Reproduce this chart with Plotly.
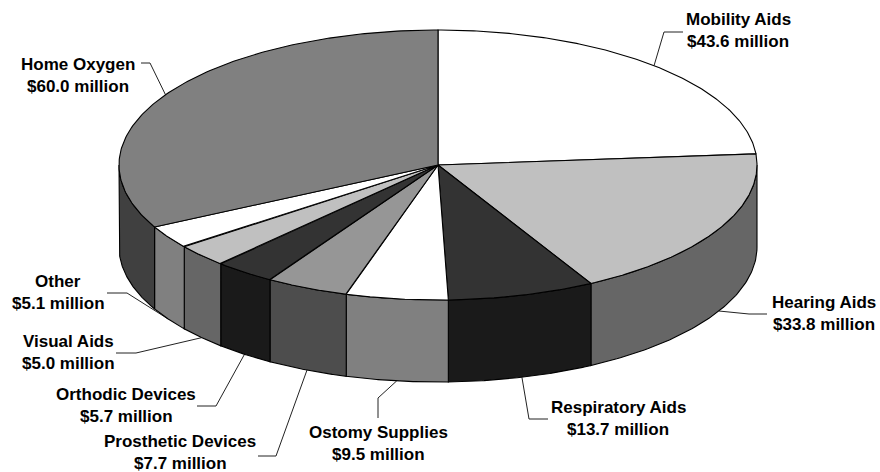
import numpy as np
import plotly.graph_objects as go

# Data
categories = ["Mobility Aids", "Hearing Aids", "Respiratory Aids", "Ostomy Supplies",
              "Prosthetic Devices", "Orthodic Devices", "Visual Aids", "Other", "Home Oxygen"]
values = [43.6, 33.8, 13.7, 9.5, 7.7, 5.7, 5.0, 5.1, 60.0]

# Styles
top_colors = ["#ffffff", "#c0c0c0", "#333333", "#ffffff", "#969696", "#333333", "#c0c0c0", "#ffffff", "#808080"]
side_colors = ["#666666", "#666666", "#1a1a1a", "#808080", "#4d4d4d", "#1a1a1a", "#666666", "#808080", "#404040"]

# Pie geometry (pixels)
cx, cy, a, b, depth = 438.0, 165.0, 319.0, 135.0, 82.0

# Label layout: elbow points of the leader and text centre
leader_elbows = [[(664, 32), (683, 32)], [(749, 314), (767, 314)], [(529, 419), (548, 419)],
                 [(378, 398), (378, 418)], [(276, 456), (258, 456)], [(216, 406), (197, 406)],
                 [(136, 353), (116, 353)], [(127, 293), (107, 293)], [(150, 63), (141, 63)]]
label_x = [738, 824, 618, 378, 180, 126, 68, 58, 78]
label_y = [19, 302, 407, 432, 441, 394, 341, 281, 64]
line_gap = 22
FONT = dict(family="Liberation Sans", size=17, color="#000000")


def ex(t):
    return cx + a * np.sin(np.radians(t))


def ey(t, dz=0.0):
    return cy - b * np.cos(np.radians(t)) + dz


total = sum(values)
edges = np.concatenate([[0.0], np.cumsum(values) / total * 360.0])

fig = go.Figure()
LINE = dict(color="black", width=1.1)

# leaders
for i, name in enumerate(categories):
    mid = (edges[i] + edges[i + 1]) / 2
    front = 90 < mid < 270
    xs = [float(ex(mid))] + [p[0] for p in leader_elbows[i]]
    ys = [float(ey(mid, depth if front else 0))] + [p[1] for p in leader_elbows[i]]
    fig.add_trace(go.Scatter(x=xs, y=ys, mode="lines", line=dict(color="#222222", width=1),
                             hoverinfo="skip", showlegend=False))

# side walls
for i, name in enumerate(categories):
    t0, t1 = max(edges[i], 90.0), min(edges[i + 1], 270.0)
    if t1 <= t0:
        continue
    t = np.linspace(t0, t1, 80)
    xs = np.concatenate([ex(t), ex(t[::-1]), ex(t[:1])])
    ys = np.concatenate([ey(t), ey(t[::-1], depth), ey(t[:1])])
    fig.add_trace(go.Scatter(x=xs, y=ys, mode="lines", fill="toself", fillcolor=side_colors[i],
                             line=LINE, name=name, showlegend=False))

# top slices
for i, name in enumerate(categories):
    t = np.linspace(edges[i], edges[i + 1], 160)
    xs = np.concatenate([[cx], ex(t), [cx]])
    ys = np.concatenate([[cy], ey(t), [cy]])
    fig.add_trace(go.Scatter(x=xs, y=ys, mode="lines", fill="toself", fillcolor=top_colors[i],
                             line=LINE, name=name, text=f"${values[i]:.1f} million",
                             hoverinfo="name+text", showlegend=False))

# labels
annotations = []
for name, v, lx, ly in zip(categories, values, label_x, label_y):
    for k, s in enumerate([name, f"${v:.1f} million"]):
        annotations.append(dict(x=lx, y=ly + k * line_gap, xref="x", yref="y", text=f"<b>{s}</b>",
                                showarrow=False, xanchor="center", yanchor="middle", font=FONT))

fig.update_layout(
    width=880, height=472, autosize=False, margin=dict(l=0, r=0, t=0, b=0),
    paper_bgcolor="white", plot_bgcolor="white", annotations=annotations,
    xaxis=dict(range=[0, 880], visible=False, fixedrange=True),
    yaxis=dict(range=[472, 0], visible=False, fixedrange=True),
)
fig.write_html("out.html", config=dict(displayModeBar=False),
               post_script="document.body.style.margin='0';document.body.style.overflow='hidden';")
